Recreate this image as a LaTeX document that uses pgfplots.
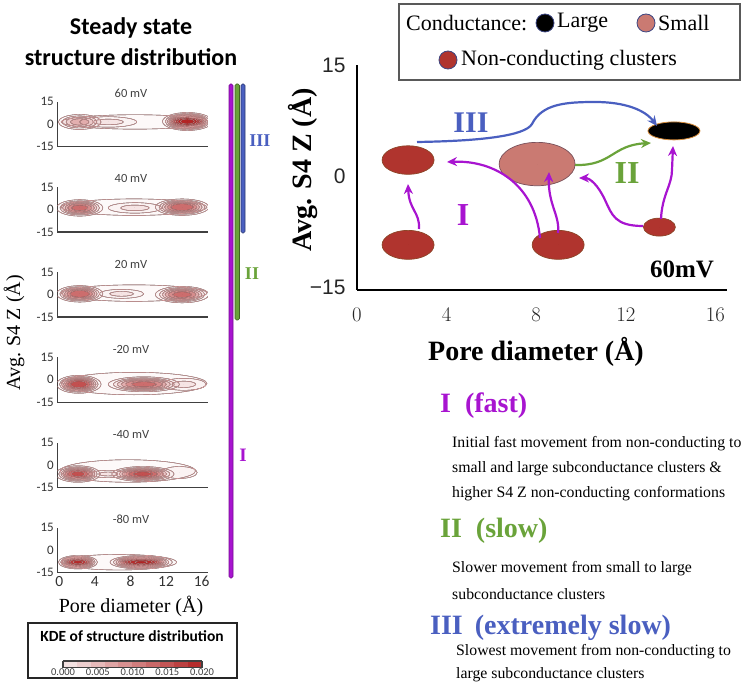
\documentclass[border=0pt]{standalone}
\usepackage{pgfplots}
\usepackage{pgfplotstable}
\pgfplotsset{compat=1.18}
\usetikzlibrary{arrows.meta}
\usepackage{fontspec}
\setmainfont{Liberation Serif}
\newfontfamily\carlito{Carlito}
\newfontfamily\arialf{Liberation Sans}
\newcommand\fs[1]{\fontsize{#1}{#1}\selectfont}

\definecolor{kdered}{RGB}{178,34,34}
\definecolor{kdeline}{RGB}{236,170,170}
\definecolor{ncred}{RGB}{176,52,46}
\definecolor{ncedge}{RGB}{140,70,40}
\definecolor{smallc}{RGB}{202,122,114}
\definecolor{smalledge}{RGB}{120,80,90}
\definecolor{largeedge}{RGB}{214,140,60}
\definecolor{legedge}{RGB}{60,70,130}
\definecolor{purp}{RGB}{168,20,208}
\definecolor{grn}{RGB}{106,163,58}
\definecolor{blu}{RGB}{74,95,192}
\definecolor{axgray}{RGB}{64,64,64}

% KDE blobs: centre (x,y), outer half-widths rx, ry (data units), peak level lev
\pgfplotstableread{
x y rx ry lev
8.5 1.5 8.3 4.8 0.08
2.3 1.5 2.4 5.0 0.3
5.5 1.5 3.2 3.5 0.12
14.4 1.8 2.8 6.0 1.0
}\kdeA
\pgfplotstableread{
x y rx ry lev
8.4 1.5 8.2 5.5 0.09
2.3 1.0 2.6 5.5 0.5
8.5 1.0 3.0 3.5 0.12
13.8 1.5 3.0 5.5 0.55
}\kdeB
\pgfplotstableread{
x y rx ry lev
8.4 1.0 8.2 5.5 0.09
2.3 0.5 2.6 5.5 0.55
7.0 0.5 2.5 3.0 0.12
13.8 0.0 3.0 5.5 0.5
}\kdeC
\pgfplotstableread{
x y rx ry lev
8.4 -2.5 8.2 7.5 0.09
2.2 -3.0 2.5 6.0 0.65
9.5 -3.0 4.0 5.0 0.5
14.0 -3.0 2.5 4.0 0.12
}\kdeD
\pgfplotstableread{
x y rx ry lev
7.7 -4.0 7.6 7.5 0.09
5.5 -6.0 2.0 2.5 0.12
13.5 -5.0 2.0 4.0 0.1
2.1 -6.0 2.5 5.5 0.6
9.4 -6.0 3.5 5.0 0.6
}\kdeE
\pgfplotstableread{
x y rx ry lev
6.7 -8.0 6.5 5.2 0.09
2.1 -8.0 2.2 4.5 0.85
9.2 -8.0 3.5 4.5 0.95
}\kdeF

\newcommand\kdefill{%
  \foreach \t in {0.04,0.1,0.17,0.25,0.34,0.44,0.55,0.67,0.8,0.92}{%
    \pgfmathtruncatemacro\ok{\t<\lev}%
    \ifnum\ok=1
      \pgfmathsetmacro\sc{(ln(\lev/\t)/ln(\lev/0.04))^0.35}%
      \pgfmathsetmacro\op{0.7*\t}%
      \fill[fill=kdered, fill opacity=\op] (0pt,0pt) ellipse [x radius=\sc*\rx*8.9pt, y radius=\sc*\ry*1.5pt];%
    \fi
  }%
}
\newcommand\kdelines{%
  \foreach \t in {0.04,0.1,0.17,0.25,0.34,0.44,0.55,0.67,0.8,0.92}{%
    \pgfmathtruncatemacro\ok{\t<\lev}%
    \ifnum\ok=1
      \pgfmathsetmacro\sc{(ln(\lev/\t)/ln(\lev/0.04))^0.35}%
      \draw[draw=kdeline, line width=0.4pt] (0pt,0pt) ellipse [x radius=\sc*\rx*8.9pt, y radius=\sc*\ry*1.5pt];%
    \fi
  }%
}
\newcommand\elblob{%
  \pgfmathtruncatemacro\tyi{\ty}%
  \ifcase\tyi\relax\or
    \filldraw[fill=ncred, draw=ncedge, line width=0.7pt] (0pt,0pt) ellipse [x radius=\rx*1pt, y radius=\ry*1pt];%
  \or
    \filldraw[fill=smallc, draw=smalledge, line width=0.7pt] (0pt,0pt) ellipse [x radius=\rx*1pt, y radius=\ry*1pt];%
  \or
    \filldraw[fill=black, draw=largeedge, line width=0.8pt] (0pt,0pt) ellipse [x radius=\rx*1pt, y radius=\ry*1pt];%
  \fi
}

\pgfplotsset{
  kdeaxis/.style={
    anchor=south west,
    x=8.9pt, y=1.5pt, xmin=-0.22, xmax=16.7, ymin=-15, ymax=15,
    axis x line*=bottom, axis y line*=left,
    axis line style={-, draw=axgray, line width=1.3pt},
    ytick={-15,0,15}, yticklabels={-15,0,15},
    xtick={0,4,8,12,16}, xticklabels={},
    major tick length=0pt,
    tick label style={font=\carlito\fs{13}, text=black!80},
    clip marker paths=true,
  },
  kdebase/.style={
    scatter, only marks, mark=*, mark size=0pt, mark options={draw=none, fill=none},
    point meta=\thisrow{lev},
    visualization depends on={\thisrow{rx}\as\rx},
    visualization depends on={\thisrow{ry}\as\ry},
    visualization depends on={\thisrow{lev}\as\lev},
    scatter/@post marker code/.code={\end{scope}},
  },
  kdefillplot/.style={kdebase, scatter/@pre marker code/.code={\begin{scope}\kdefill}},
  kdelineplot/.style={kdebase, scatter/@pre marker code/.code={\begin{scope}\kdelines}},
}

\begin{document}
\begin{tikzpicture}
\useasboundingbox (0,0) rectangle (747pt,686pt);

% ---------------- left: six KDE panels ----------------
\begin{axis}[kdeaxis, at={(57.3pt,539.3pt)}]
\addplot[kdefillplot] table {\kdeA};
\addplot[kdelineplot] table {\kdeA};
\end{axis}

\begin{axis}[kdeaxis, at={(57.3pt,454.1pt)}]
\addplot[kdefillplot] table {\kdeB};
\addplot[kdelineplot] table {\kdeB};
\end{axis}

\begin{axis}[kdeaxis, at={(57.3pt,368.9pt)}]
\addplot[kdefillplot] table {\kdeC};
\addplot[kdelineplot] table {\kdeC};
\end{axis}

\begin{axis}[kdeaxis, at={(57.3pt,283.7pt)}]
\addplot[kdefillplot] table {\kdeD};
\addplot[kdelineplot] table {\kdeD};
\end{axis}

\begin{axis}[kdeaxis, at={(57.3pt,198.5pt)}]
\addplot[kdefillplot] table {\kdeE};
\addplot[kdelineplot] table {\kdeE};
\end{axis}

\begin{axis}[kdeaxis, at={(57.3pt,113.3pt)},
  xticklabels={0,4,8,12,16},
  xticklabel style={font=\carlito\fs{15.5}, text=black!80}]
\addplot[kdefillplot] table {\kdeF};
\addplot[kdelineplot] table {\kdeF};
\end{axis}

% colour bar
\begin{axis}[hide axis, scale only axis, width=139pt, height=6.5pt,
  at={(63pt,27pt)}, anchor=south west,
  xmin=0, xmax=1, ymin=0, ymax=1,
  colormap={kdemap}{rgb255=(248,236,236) rgb255=(178,36,36)},
  point meta min=0, point meta max=0.02,
  colorbar horizontal, colorbar sampled,
  colorbar style={at={(parent axis.south west)}, anchor=south west,
    scale only axis, width=139pt, height=6.5pt, samples=11,
    xtick={0,0.005,0.01,0.015,0.02},
    xticklabels={0.000,0.005,0.010,0.015,0.020},
    scaled x ticks=false, major tick length=0pt,
    xticklabel style={font=\carlito\fs{10.5}, text=axgray, yshift=2pt},
    axis line style={draw=axgray, line width=1.2pt}}]
\addplot[draw=none, forget plot] coordinates {(0.5,0.5)};
\end{axis}

% ---------------- right: schematic at 60 mV ----------------
\begin{axis}[at={(357pt,396pt)}, anchor=south west, x=22.4pt, y=7.4pt,
  xmin=0, xmax=16.5, ymin=-15.4, ymax=15,
  axis x line*=bottom, axis y line*=left,
  axis line style={-, draw=black, line width=2.2pt},
  xtick={0,4,8,12,16}, ytick={-15,0,15}, yticklabels={−15,0,15},
  major tick length=0pt,
  tick label style={font=\arialf\fs{21}, text=black!85},
  xticklabel style={yshift=-15pt}, yticklabel style={xshift=-8pt},
  clip=false]
\addplot[scatter, only marks, mark=*, mark size=0pt, mark options={draw=none, fill=none},
  point meta=\thisrow{t},
  visualization depends on={\thisrow{rx}\as\rx},
  visualization depends on={\thisrow{ry}\as\ry},
  visualization depends on={\thisrow{t}\as\ty},
  scatter/@pre marker code/.code={\begin{scope}\elblob},
  scatter/@post marker code/.code={\end{scope}}] table {
x y rx ry t
2.28 2.16 26 14.3 1
2.28 -9.3 26 14.5 1
8.98 -9.3 26 14.5 1
13.5 -6.9 16 9 1
8.04 1.62 38 21.7 2
14.15 6.1 26 9 3
};
\end{axis}

% ---------------- annotations (pixel coordinates, y downwards) ----------------
\begin{scope}[yshift=686pt, x=1pt, y=-1pt]
  % left titles and labels
  \node[font=\carlito\bfseries\fs{24}] at (131,28) {Steady state};
  \node[font=\carlito\bfseries\fs{24}] at (131,57) {structure distribution};
  \foreach \lab/\yy in {60 mV/93.7, 40 mV/178.9, 20 mV/264.1, -20 mV/349.3, -40 mV/434.5, -80 mV/519.7}
    \node[font=\carlito\fs{12.5}, text=axgray] at (131,\yy) {\lab};
  \node[rotate=90, font=\fs{20}] at (14,333) {Avg. S4 Z (Å)};
  \node[font=\fs{20}] at (131,606) {Pore diameter (Å)};
  % colour bar box
  \draw[draw=black!85, line width=1.3pt] (28,623) rectangle (237,678);
  \node[font=\carlito\bfseries\fs{15.5}] at (132,636) {KDE of structure distribution};

  % phase bars
  \filldraw[fill=purp, draw=purp!70!black, line width=0.6pt, rounded corners=1.5pt] (229,84) rectangle (233,578);
  \filldraw[fill=grn, draw=grn!60!black, line width=0.6pt, rounded corners=1.5pt] (235,84) rectangle (239.5,320);
  \filldraw[fill=blu, draw=blu!60!black, line width=0.6pt, rounded corners=1.5pt] (241,84) rectangle (245,233);
  \node[text=blu, font=\bfseries\fs{18}] at (260,141) {III};
  \node[text=grn, font=\bfseries\fs{18}] at (252,274) {II};
  \node[text=purp, font=\bfseries\fs{19}] at (243,455) {I};

  % right-axis labels
  \node[rotate=90, font=\bfseries\fs{28}] at (303,170) {Avg. S4 Z (Å)};
  \node[font=\bfseries\fs{28}] at (536,352) {Pore diameter (Å)};
  \node[font=\bfseries\fs{25}] at (682,269) {60mV};

  % legend box
  \draw[draw=black!65, line width=1.2pt] (399,4) rectangle (740,80);
  \node[anchor=west, inner sep=0, font=\fs{22}] at (406,23) {Conductance:};
  \filldraw[fill=black, draw=legedge, line width=0.8pt] (545,23) circle (9);
  \node[anchor=west, inner sep=0, font=\fs{22}] at (557,23) {Large};
  \filldraw[fill=smallc, draw=legedge, line width=0.8pt] (646,23) circle (9);
  \node[anchor=west, inner sep=0, font=\fs{22}] at (658,23) {Small};
  \filldraw[fill=ncred, draw=legedge, line width=0.8pt] (448,60) circle (9);
  \node[anchor=west, inner sep=0, font=\fs{22}] at (461,60) {Non-conducting clusters};

  % arrows
  \begin{scope}[line width=2.2pt, -{Stealth[length=10pt, width=9pt]}]
    \draw[purp] (419,229) .. controls (420,212) and (409,210) .. (408,184);
    \draw[purp] (540,238) .. controls (535,185) and (495,160) .. (447,162);
    \draw[purp] (558,233) .. controls (560,215) and (548,205) .. (549,172);
    \draw[purp] (643,226) .. controls (615,226) and (612,215) .. (605,200) .. controls (598,185) and (590,178) .. (579,178);
    \draw[purp] (661,219) .. controls (662,195) and (672,185) .. (672,170) -- (673,146);
    \draw[grn] (575,165) .. controls (612,166) and (612,145) .. (651,143);
    \draw[blu] (417,142) .. controls (480,141) and (525,136) .. (532,124) .. controls (542,104) and (565,102) .. (595,102) .. controls (625,102) and (645,110) .. (657,126);
  \end{scope}
  \node[text=blu, font=\bfseries\fs{30}] at (471,123) {III};
  \node[text=grn, font=\bfseries\fs{32}] at (627,173) {II};
  \node[text=purp, font=\bfseries\fs{32}] at (463,215) {I};

  % description text
  \node[anchor=west, inner sep=0, text=purp, font=\bfseries\fs{28}] at (440,406) {I\hspace{14pt}(fast)};
  \node[anchor=west, inner sep=0, font=\fs{15.8}] at (452,444) {Initial fast movement from non-conducting to};
  \node[anchor=west, inner sep=0, font=\fs{15.8}] at (452,469) {small and large subconductance clusters \&};
  \node[anchor=west, inner sep=0, font=\fs{15.8}] at (452,494) {higher S4 Z non-conducting conformations};
  \node[anchor=west, inner sep=0, text=grn, font=\bfseries\fs{28}] at (440,531) {II\hspace{14pt}(slow)};
  \node[anchor=west, inner sep=0, font=\fs{15.8}] at (452,569) {Slower movement from small to large};
  \node[anchor=west, inner sep=0, font=\fs{15.8}] at (452,594) {subconductance clusters};
  \node[anchor=west, inner sep=0, text=blu, font=\bfseries\fs{28}] at (430,628) {III\hspace{12pt}(extremely slow)};
  \node[anchor=west, inner sep=0, font=\fs{15.8}] at (456,652) {Slowest movement from non-conducting to};
  \node[anchor=west, inner sep=0, font=\fs{15.8}] at (456,675) {large subconductance clusters};
\end{scope}
\end{tikzpicture}
\end{document}
